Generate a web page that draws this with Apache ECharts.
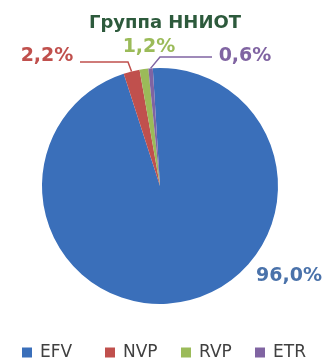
<!DOCTYPE html>
<html>
<head>
<meta charset="utf-8">
<script src="https://cdn.jsdelivr.net/npm/echarts@6/dist/echarts.min.js"></script>
<style>
  html, body { margin: 0; padding: 0; background: #fff; }
  #chart { width: 326px; height: 362px; }
</style>
</head>
<body>
<div id="chart"></div>
<script>
// Share of the group's total by category, percent
const categories = ['EFV', 'NVP', 'RVP', 'ETR'];
const shares = [96.0, 2.2, 1.2, 0.6];
const colors = ['#3a6fba', '#c0504d', '#9bbb59', '#8064a2'];
const labelColors = ['#4a72aa', '#c0504d', '#9bbb59', '#8064a2'];

// Where each percentage label sits, and the elbow of its leader line (null = no line)
const labelSpots = [
  { x: 289, y: 276, elbow: null, end: null },
  { x: 47, y: 56, elbow: [128, 62], end: [80, 62] },
  { x: 149, y: 47, elbow: null, end: null },
  { x: 245, y: 56, elbow: [160, 57], end: [212, 57] }
];
const legendLeft = [17, 100, 176, 250];

const chart = echarts.init(document.getElementById('chart'), null, { renderer: 'canvas' });

const fmt = v => v.toFixed(1).replace('.', ',') + '%';

chart.setOption({
  animation: false,
  title: {
    text: 'Группа ННИОТ',
    left: 160,
    top: 9,
    textAlign: 'center',
    textStyle: { fontFamily: 'DejaVu Sans', fontWeight: 'bold', fontSize: 18, color: '#2d5a3c' }
  },
  legend: categories.map((name, i) => ({
    data: [name],
    left: legendLeft[i],
    top: 339,
    itemWidth: 10,
    itemHeight: 10,
    itemGap: 0,
    icon: 'rect',
    textStyle: { fontFamily: 'DejaVu Sans', fontSize: 17, color: '#404040', padding: [0, 0, 0, 3] }
  })),
  series: [{
    type: 'pie',
    center: [160, 186],
    radius: 118,
    startAngle: 93.5,
    clockwise: true,
    avoidLabelOverlap: false,
    data: categories.map((name, i) => ({
      name,
      value: shares[i],
      itemStyle: { color: colors[i], borderWidth: 0 },
      label: { color: labelColors[i] },
      labelLine: { show: labelSpots[i].elbow !== null }
    })),
    label: {
      show: true,
      position: 'outside',
      formatter: p => fmt(p.value),
      fontFamily: 'DejaVu Sans',
      fontWeight: 'bold',
      fontSize: 19
    },
    labelLine: { show: true, length: 10, length2: 10, lineStyle: { width: 1.5 } },
    labelLayout: params => {
      const s = labelSpots[params.dataIndex];
      const out = { x: s.x, y: s.y, align: 'center', verticalAlign: 'middle' };
      if (s.elbow && params.labelLinePoints) {
        out.labelLinePoints = [params.labelLinePoints[0], s.elbow, s.end];
      }
      return out;
    }
  }]
});
</script>
</body>
</html>
